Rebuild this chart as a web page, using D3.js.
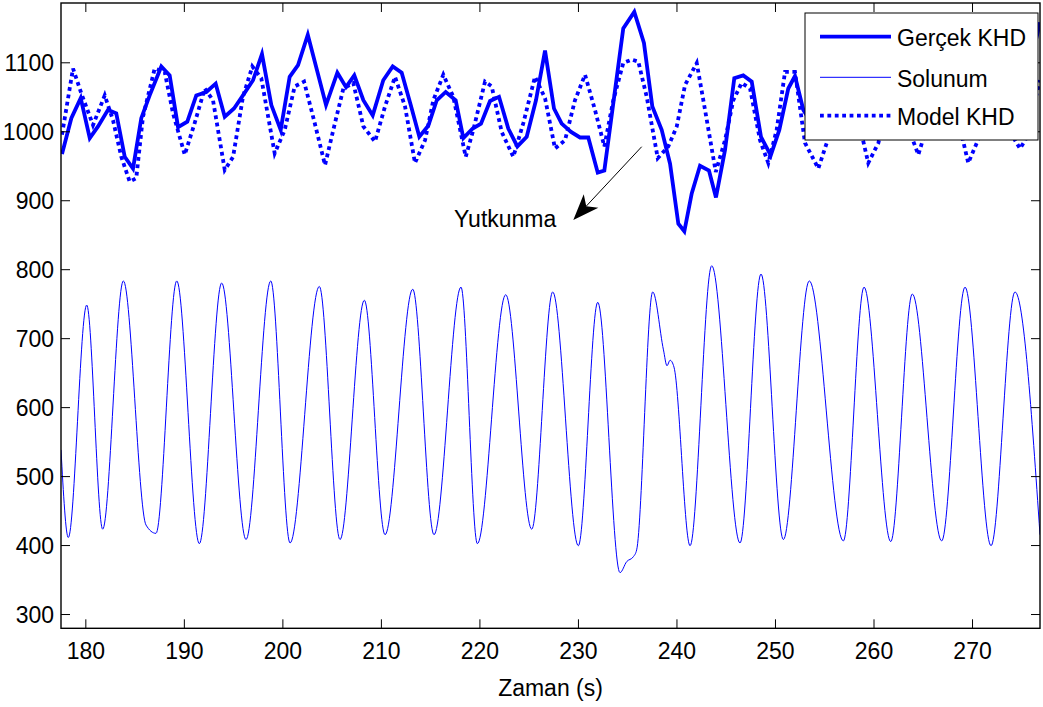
<!DOCTYPE html>
<html>
<head>
<meta charset="utf-8">
<script src="https://cdn.jsdelivr.net/npm/d3@7"></script>
<style>
  body { margin: 0; background: #fff; }
  svg text { font-family: "Liberation Sans", Arial, sans-serif; fill: #000; }
</style>
</head>
<body>
<svg id="chart" width="1043" height="707"></svg>
<script>
// ---------------- DATA ----------------
const xDomain = [177.53, 276.9];
const yDomain = [279.3, 1186];
const xTicks = [180, 190, 200, 210, 220, 230, 240, 250, 260, 270];
const yTicks = [300, 400, 500, 600, 700, 800, 900, 1000, 1100];
const xLabel = "Zaman (s)";
const seriesNames = ["Gerçek KHD", "Solunum", "Model KHD"];

// Gerçek KHD (measured heart rate) - time (s)
const gercekT = [177.63,178.58,179.53,180.45,181.29,182.30,183.14,184.00,184.84,185.68,
  186.53,187.71,188.56,189.41,190.35,191.26,192.28,193.23,194.15,195.09,
  196.00,197.02,197.93,198.88,199.83,200.74,201.59,202.58,204.43,205.58,
  206.46,207.30,208.22,209.17,210.24,211.20,212.11,213.03,213.90,214.81,
  215.67,216.58,217.59,218.37,219.32,220.16,221.08,221.99,222.93,223.85,
  224.80,225.74,226.66,227.57,228.35,229.30,230.21,231.05,232.01,232.68,
  234.60,235.72,236.70,237.55,238.50,239.35,240.19,240.80,241.55,242.39,
  243.30,244.01,244.93,245.87,246.78,247.64,248.58,249.57,250.44,251.35,
  252.03,252.88,253.80,254.75,255.70,256.65,257.60,258.55,259.50,260.45,
  261.40,262.35,263.30,264.25,265.20,266.15,267.10,268.05,269.00,269.95,
  270.90,271.85,272.80,273.75,274.70,275.65,276.90];
const gercekV = [967,1019,1048,990,1007,1031,1026,963,946,1019,
  1052,1094,1081,1006,1014,1052,1057,1069,1021,1033,
  1052,1074,1112,1038,1002,1079,1096,1140,1038,1085,
  1064,1081,1045,1023,1074,1094,1085,1038,992,1008,
  1045,1057,1045,990,1004,1011,1044,1050,1004,978,
  992,1045,1117,1033,1011,999,991,991,940,943,
  1149,1173,1128,1036,1002,953,866,855,910,950,
  943,904,973,1077,1081,1072,992,965,1002,1062,
  1080,1031,1010,1035,1060,1070,1045,1015,1030,1062,
  1075,1050,1020,1035,1065,1072,1040,1012,1030,1060,
  1078,1050,1018,1035,1062,1080,1158];

// Model KHD
const modelT = [177.63,178.75,179.59,180.78,181.97,182.81,183.65,184.50,185.17,185.85,
  187.04,188.06,188.90,190.09,191.10,192.12,192.96,194.15,195.00,196.00,
  196.95,197.86,199.22,200.24,201.25,202.20,203.21,204.33,205.17,206.19,
  207.20,208.22,209.40,210.42,211.43,212.45,213.46,214.48,215.32,216.34,
  217.35,218.61,219.38,220.57,221.25,222.26,223.44,224.46,225.64,226.66,
  227.67,228.69,229.70,230.72,231.73,232.68,233.59,234.60,235.46,236.13,
  236.98,238.10,239.17,240.03,240.87,242.06,242.90,243.99,244.93,245.77,
  246.62,247.47,248.48,249.32,250.17,251.02,252.03,253.05,254.40,255.25,
  256.90,258.97,259.47,260.49,262.18,264.00,264.55,265.00,267.05,269.08,
  269.62,270.60,272.33,274.36,274.87,275.40,276.90];
const modelV = [995,1091,1055,1009,1052,1016,963,927,932,1021,
  1091,1086,1026,966,1012,1062,1045,944,963,1050,
  1094,1077,968,1002,1065,1072,1016,951,1002,1062,
  1070,1007,985,1036,1079,1036,954,987,1045,1082,
  1050,963,1002,1072,1065,999,963,1012,1079,1048,
  975,987,1045,1082,1031,978,1045,1099,1104,1101,
  1050,961,978,1007,1067,1099,1031,941,987,1045,
  1070,1062,987,954,1002,1086,1086,983,946,983,
  1080,985,954,983,1082,987,966,987,1082,987,
  954,987,1082,987,975,987,1074];

// Solunum (respiration) - extrema of each breathing cycle
const solunumT = [177.53,178.27,180.14,181.76,183.86,186.16,187.17,189.28,191.57,193.84,
  196.31,198.82,200.78,203.75,205.85,208.32,210.42,213.23,215.39,218.13,
  219.79,222.67,225.31,227.44,230.04,232.01,234.27,234.95,235.62,235.96,
  237.59,238.68,239.04,239.35,239.75,241.38,243.58,246.45,248.58,250.85,
  253.48,256.94,259.04,261.75,263.94,266.92,269.29,271.93,274.36,276.90];
const solunumV = [538,411,748,423,783,429,417,783,402,780,
  408,783,403,775,408,755,415,771,415,774,
  402,763,423,767,399,752,360,376,383,393,
  767,683,660,668,658,399,805,403,793,408,
  783,406,774,405,764,406,774,399,767,415];

// Annotation (data coordinates)
const annotText = "Yutkunma";
const annotTextPos = [227.8, 861.6];
const arrowTail = [236.47, 977.6];
const arrowTip = [229.53, 871.3];

// ---------------- CHART ----------------
const svg = d3.select("#chart");
const L = 61, R = 1040, T = 3, B = 628.3;
const x = d3.scaleLinear().domain(xDomain).range([L, R]);
const y = d3.scaleLinear().domain(yDomain).range([B, T]);
const blue = "#0000ff";
const SY = 1.08; // vertical stretch of the reference text
const FS = "23px";

svg.append("rect").attr("width", 1043).attr("height", 707).attr("fill", "#fff");

svg.append("defs").append("clipPath").attr("id", "clip")
  .append("rect").attr("x", L).attr("y", T).attr("width", R - L).attr("height", B - T);

const plot = svg.append("g").attr("clip-path", "url(#clip)");

const zip = (a, b) => a.map((d, i) => [d, b[i]]);
const lineStraight = d3.line().x(d => x(d[0])).y(d => y(d[1]));
const lineSmooth = d3.line().x(d => x(d[0])).y(d => y(d[1])).curve(d3.curveMonotoneX);

plot.append("path").datum(zip(gercekT, gercekV))
  .attr("d", lineStraight).attr("fill", "none").attr("stroke", blue)
  .attr("stroke-width", 3.8).attr("stroke-linejoin", "miter");

plot.append("path").datum(zip(solunumT, solunumV))
  .attr("d", lineSmooth).attr("fill", "none").attr("stroke", blue)
  .attr("stroke-width", 1);

plot.append("path").datum(zip(modelT, modelV))
  .attr("d", lineStraight).attr("fill", "none").attr("stroke", blue)
  .attr("stroke-width", 3.8).attr("stroke-dasharray", "3.8,3.6");

// Axes (ticks inward on all four sides)
const tk = 9;
const gB = svg.append("g").attr("transform", `translate(0,${B})`)
  .call(d3.axisBottom(x).tickValues(xTicks).tickSize(-tk).tickFormat(d3.format("d")));
const gT = svg.append("g").attr("transform", `translate(0,${T})`)
  .call(d3.axisTop(x).tickValues(xTicks).tickSize(-tk).tickFormat(""));
const gL = svg.append("g").attr("transform", `translate(${L},0)`)
  .call(d3.axisLeft(y).tickValues(yTicks).tickSize(-tk).tickFormat(d3.format("d")));
const gR = svg.append("g").attr("transform", `translate(${R},0)`)
  .call(d3.axisRight(y).tickValues(yTicks).tickSize(-tk).tickFormat(""));

[gB, gT, gL, gR].forEach(g => {
  g.select(".domain").remove();
  g.selectAll(".tick line").attr("stroke", "#000").attr("stroke-width", 1);
  g.attr("color", "#000");
});
gB.selectAll(".tick text")
  .attr("y", 0).attr("dy", null)
  .attr("transform", `translate(0,31) scale(1,${SY})`)
  .attr("text-anchor", "middle")
  .style("font-size", FS);
gL.selectAll(".tick text")
  .attr("x", 0).attr("dy", null)
  .attr("transform", `translate(-7,8.3) scale(1,${SY})`)
  .attr("text-anchor", "end")
  .style("font-size", FS);
gT.selectAll(".tick text").remove();
gR.selectAll(".tick text").remove();

svg.append("rect").attr("x", L).attr("y", T).attr("width", R - L).attr("height", B - T)
  .attr("fill", "none").attr("stroke", "#000").attr("stroke-width", 1.4);

// X label
svg.append("text").attr("transform", `translate(${(L + R) / 2},696) scale(1,${SY})`)
  .attr("text-anchor", "middle").style("font-size", FS).text(xLabel);

// Annotation
const tailP = [x(arrowTail[0]), y(arrowTail[1])];
const tipP = [x(arrowTip[0]), y(arrowTip[1])];
const dx = tipP[0] - tailP[0], dy = tipP[1] - tailP[1];
const len = Math.hypot(dx, dy);
const ux = dx / len, uy = dy / len, nx = -uy, ny = ux;
const hl = 26, hw = 10, notch = 19;
svg.append("line")
  .attr("x1", tailP[0]).attr("y1", tailP[1])
  .attr("x2", tipP[0] - ux * notch).attr("y2", tipP[1] - uy * notch)
  .attr("stroke", "#000").attr("stroke-width", 1);
svg.append("path")
  .attr("d", `M${tipP[0]},${tipP[1]}
    L${tipP[0] - ux * hl + nx * hw},${tipP[1] - uy * hl + ny * hw}
    L${tipP[0] - ux * notch},${tipP[1] - uy * notch}
    L${tipP[0] - ux * hl - nx * hw},${tipP[1] - uy * hl - ny * hw}Z`)
  .attr("fill", "#000");
svg.append("text")
  .attr("transform", `translate(${x(annotTextPos[0])},${y(annotTextPos[1])}) scale(1,${SY})`)
  .attr("text-anchor", "end").style("font-size", FS).text(annotText);

// Legend
const lg = svg.append("g");
lg.append("rect").attr("x", 805).attr("y", 13).attr("width", 233).attr("height", 127)
  .attr("fill", "#fff").attr("stroke", "#000").attr("stroke-width", 1);
const legendStyles = [
  { w: 3.8, dash: null },
  { w: 1, dash: null },
  { w: 3.8, dash: "3.8,3.6" }
];
const rowY = [36.7, 77.3, 115.7];
seriesNames.forEach((name, i) => {
  const ln = lg.append("line").attr("x1", 820).attr("x2", 891)
    .attr("y1", rowY[i]).attr("y2", rowY[i])
    .attr("stroke", blue).attr("stroke-width", legendStyles[i].w);
  if (legendStyles[i].dash) ln.attr("stroke-dasharray", legendStyles[i].dash);
  lg.append("text")
    .attr("transform", `translate(897,${rowY[i] + 9.5}) scale(1,${SY})`)
    .style("font-size", FS).text(name);
});
</script>
</body>
</html>
